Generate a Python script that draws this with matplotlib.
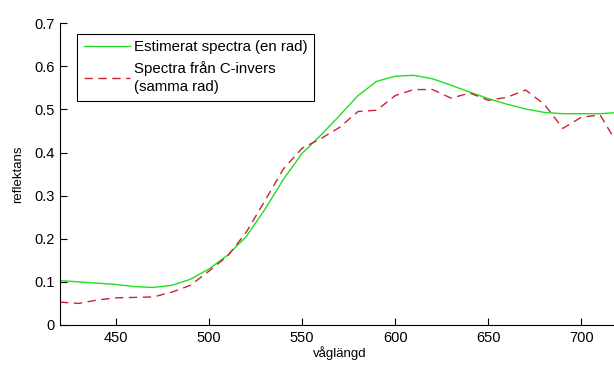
import matplotlib.pyplot as plt
import numpy as np

plt.rcParams["font.family"] = ["Liberation Sans", "DejaVu Sans"]

# wavelength grid (nm)
wavelength = [420, 430, 440, 450, 460, 470, 480, 490, 500, 510, 520, 530,
              540, 550, 560, 570, 580, 590, 600, 610, 620, 630, 640, 650,
              660, 670, 680, 690, 700, 710, 720]

estimated = [0.103, 0.100, 0.097, 0.094, 0.089, 0.087, 0.092, 0.106, 0.130,
             0.162, 0.205, 0.268, 0.338, 0.398, 0.440, 0.485, 0.532, 0.565,
             0.577, 0.579, 0.571, 0.556, 0.540, 0.525, 0.512, 0.501, 0.493,
             0.490, 0.490, 0.490, 0.493]

c_invers = [0.053, 0.050, 0.058, 0.063, 0.064, 0.065, 0.076, 0.092, 0.125,
            0.160, 0.215, 0.288, 0.362, 0.410, 0.432, 0.458, 0.495, 0.498,
            0.532, 0.546, 0.546, 0.526, 0.538, 0.521, 0.528, 0.545, 0.512,
            0.456, 0.482, 0.487, 0.415]

legend_labels = ["Estimerat spectra (en rad)", "Spectra från C-invers\n(samma rad)"]


def main() -> None:
    fig = plt.figure(figsize=(6.14, 3.65), dpi=100)
    ax = fig.add_axes([0.0977, 0.1096, 0.910, 0.827])

    ax.plot(wavelength, estimated, color="#22dd22", linewidth=1.0,
            label=legend_labels[0])
    ax.plot(wavelength, c_invers, color="#cc2233", linewidth=1.0,
            linestyle=(0, (6, 4)), label=legend_labels[1])

    ax.set_xlim(420, 720)
    ax.set_ylim(0, 0.7)
    ax.set_xticks([450, 500, 550, 600, 650, 700])
    ax.set_yticks(np.arange(0, 0.71, 0.1))
    ax.set_yticklabels(["0", "0.1", "0.2", "0.3", "0.4", "0.5", "0.6", "0.7"])

    for side in ["top", "right"]:
        ax.spines[side].set_visible(False)
    for side in ["left", "bottom"]:
        ax.spines[side].set_linewidth(0.8)

    ax.tick_params(direction="in", length=5, width=0.8, labelsize=10.5,
                   colors="black", pad=4)

    ax.set_xlabel("våglängd", fontsize=9.5, labelpad=1)
    ax.set_ylabel("reflektans", fontsize=9.5, labelpad=7)

    legend = ax.legend(
        loc="upper left",
        bbox_to_anchor=(0.03, 0.965),
        borderaxespad=0,
        fancybox=False,
        framealpha=1,
        edgecolor="black",
        fontsize=10.8,
        handlelength=3.1,
        handletextpad=0.25,
        labelspacing=0.45,
        borderpad=0.45,
    )
    legend.get_texts()[1].set_linespacing(1.35)
    legend.get_frame().set_linewidth(0.8)

    fig.savefig("out.png", dpi=100)
    plt.close(fig)


if __name__ == "__main__":
    main()
